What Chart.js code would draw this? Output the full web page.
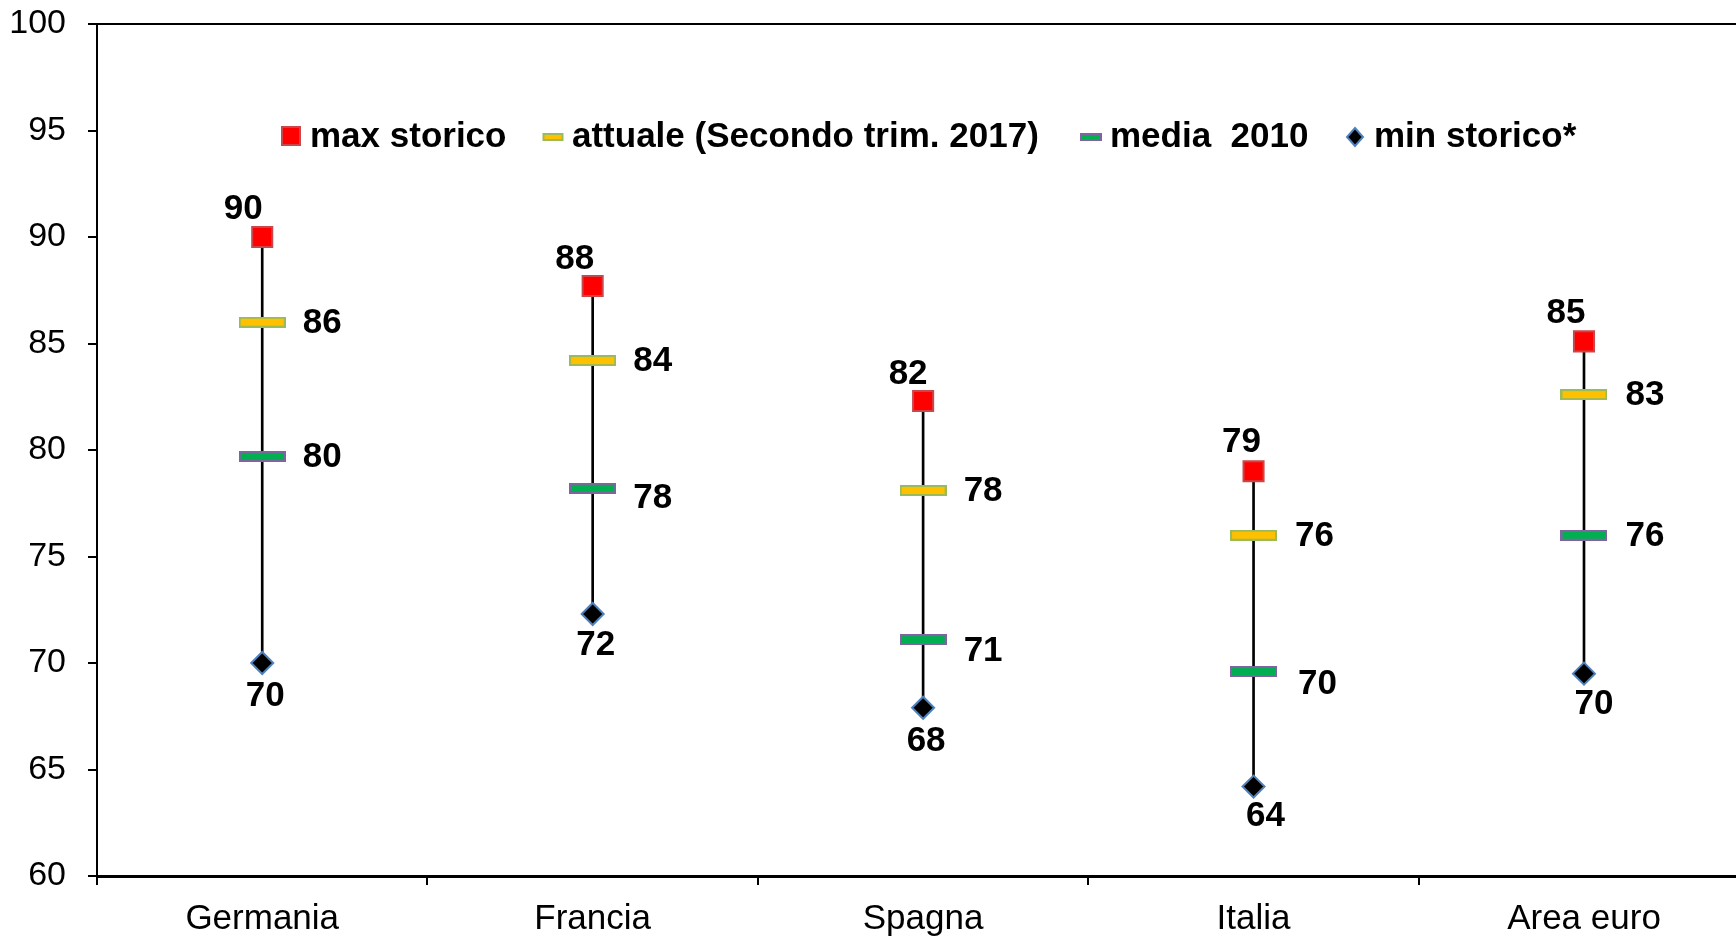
<!DOCTYPE html>
<html>
<head>
<meta charset="utf-8">
<script src="https://cdn.jsdelivr.net/npm/chart.js@4.4.1/dist/chart.umd.min.js"></script>
<style>
html,body{margin:0;padding:0;background:#fff;overflow:hidden}
#wrap{position:relative;width:1736px;height:938px}
</style>
</head>
<body>
<div id="wrap"><canvas id="c"></canvas></div>
<script>
// ---- data ----
const categories = ['Germania', 'Francia', 'Spagna', 'Italia', 'Area euro'];
const maxStorico = [90.0, 87.7, 82.3, 79.0, 85.1];
const attuale    = [86.0, 84.2, 78.1, 76.0, 82.6];
const media2010  = [79.7, 78.2, 71.1, 69.6, 76.0];
const minStorico = [70.0, 72.3, 67.9, 64.2, 69.5];
const seriesLabels = ['max storico', 'attuale (Secondo trim. 2017)', 'media  2010', 'min storico*'];
const yMin = 60, yMax = 100, yStep = 5;

// ---- styles ----
const FONT = "'Liberation Sans', Arial, sans-serif";
const COLORS = {
  maxFill: '#FF0000', maxBorder: '#C9474A',
  attFill: '#FFC000', attBorder: '#9BBB59',
  medFill: '#00B050', medBorder: '#8064A2',
  minFill: '#000000', minBorder: '#4F81BD'
};
// label nudges (pixels) per series / category
const LABEL_NUDGE = {
  max: { dx: [-19, -18, -15, -12, -18], dy: [-28, -27, -27, -29, -28] },
  att: { dx: [60, 60, 60, 61, 61], dy: [1, 1, 1, 1, 1] },
  med: { dx: [60, 60, 60, 64, 61], dy: [1, 10, 12, 13, 1] },
  min: { dx: [3, 3, 3, 12, 10], dy: [33, 31, 34, 30, 31] }
};
const LEGEND_X = [291, 553, 1091, 1355]; // marker centres
const LEGEND_Y = 137;

function barImage(w, h, fill, stroke) {
  const c = document.createElement('canvas');
  c.width = w; c.height = h;
  const g = c.getContext('2d');
  g.fillStyle = stroke; g.fillRect(0, 0, w, h);
  g.fillStyle = fill; g.fillRect(2, 2, w - 4, h - 4);
  return c;
}
const attImg = barImage(47, 11, COLORS.attFill, COLORS.attBorder);
const medImg = barImage(47, 11, COLORS.medFill, COLORS.medBorder);

const toPts = arr => arr.map((v, i) => ({ x: i, y: v }));

const datasets = [
  { type: 'scatter', label: seriesLabels[0], key: 'max', data: toPts(maxStorico),
    pointStyle: 'rect', pointRadius: 14.2, backgroundColor: COLORS.maxFill,
    borderColor: COLORS.maxBorder, borderWidth: 2, order: 1 },
  { type: 'scatter', label: seriesLabels[1], key: 'att', data: toPts(attuale),
    pointStyle: attImg, pointRadius: 10, backgroundColor: COLORS.attFill,
    borderColor: COLORS.attBorder, order: 1 },
  { type: 'scatter', label: seriesLabels[2], key: 'med', data: toPts(media2010),
    pointStyle: medImg, pointRadius: 10, backgroundColor: COLORS.medFill,
    borderColor: COLORS.medBorder, order: 1 },
  { type: 'scatter', label: seriesLabels[3], key: 'min', data: toPts(minStorico),
    pointStyle: 'rectRot', pointRadius: 11, backgroundColor: COLORS.minFill,
    borderColor: COLORS.minBorder, borderWidth: 2, order: 1 },
  { type: 'bar', label: 'range', key: 'range',
    data: categories.map((c, i) => ({ x: i, y: [minStorico[i], maxStorico[i]] })),
    backgroundColor: '#000', borderWidth: 0, barThickness: 2, order: 10 }
];

const dataLabelPlugin = {
  id: 'dataLabels',
  afterDatasetsDraw(chart) {
    const ctx = chart.ctx;
    ctx.save();
    ctx.font = 'bold 35px ' + FONT;
    ctx.fillStyle = '#000';
    ctx.textAlign = 'center';
    ctx.textBaseline = 'middle';
    chart.data.datasets.forEach((ds, di) => {
      const nudge = LABEL_NUDGE[ds.key];
      if (!nudge) return;
      const meta = chart.getDatasetMeta(di);
      meta.data.forEach((el, i) => {
        const v = ds.data[i].y;
        ctx.fillText(String(Math.round(v)), el.x + nudge.dx[i], el.y + nudge.dy[i]);
      });
    });
    ctx.restore();
  }
};

const legendPlugin = {
  id: 'inLegend',
  afterDraw(chart) {
    const ctx = chart.ctx;
    ctx.save();
    ctx.font = 'bold 35px ' + FONT;
    ctx.fillStyle = '#000';
    ctx.textAlign = 'left';
    ctx.textBaseline = 'middle';
    chart.data.datasets.forEach((ds, di) => {
      if (di > 3) return;
      const cx = LEGEND_X[di], cy = LEGEND_Y;
      ctx.save();
      if (ds.key === 'max') {
        ctx.fillStyle = ds.borderColor; ctx.fillRect(cx - 10, cy - 11, 20, 20);
        ctx.fillStyle = ds.backgroundColor; ctx.fillRect(cx - 8, cy - 9, 16, 16);
      } else if (ds.key === 'att' || ds.key === 'med') {
        const w = ds.key === 'att' ? 21 : 22;
        ctx.fillStyle = ds.borderColor; ctx.fillRect(cx - w / 2, cy - 4, w, 8);
        ctx.fillStyle = ds.backgroundColor; ctx.fillRect(cx - w / 2 + 2, cy - 2, w - 4, 4);
      } else {
        ctx.beginPath();
        ctx.moveTo(cx, cy - 9); ctx.lineTo(cx + 8, cy); ctx.lineTo(cx, cy + 9); ctx.lineTo(cx - 8, cy);
        ctx.closePath();
        ctx.fillStyle = ds.backgroundColor; ctx.fill();
        ctx.lineWidth = 2; ctx.strokeStyle = ds.borderColor; ctx.stroke();
      }
      ctx.restore();
      ctx.fillText(ds.label, cx + 19, cy);
    });
    ctx.restore();
  }
};

new Chart(document.getElementById('c'), {
  type: 'scatter',
  data: { datasets },
  options: {
    responsive: true,
    maintainAspectRatio: false,
    animation: false,
    events: [],
    layout: { autoPadding: false, padding: { top: 24, right: 0, bottom: 0, left: 0 } },
    plugins: { legend: { display: false }, tooltip: { enabled: false } },
    scales: {
      x: {
        type: 'linear',
        offset: false,
        min: -0.5,
        max: 4.46,
        afterBuildTicks(scale) {
          const t = [];
          for (let v = -0.5; v <= categories.length - 1 + 1e-9; v += 0.5) t.push({ value: v });
          scale.ticks = t;
        },
        afterFit(scale) {
          scale.height = 62;
          scale.paddingLeft = 0; scale.paddingRight = 0;
          scale.paddingTop = 0; scale.paddingBottom = 0;
        },
        ticks: {
          autoSkip: false,
          maxRotation: 0,
          padding: 13,
          color: '#000',
          font: { family: FONT, size: 35 },
          callback: v => (Number.isInteger(v) ? categories[v] : '')
        },
        grid: {
          offset: false,
          drawOnChartArea: false,
          tickLength: 9,
          lineWidth: 2,
          tickColor: ctx => (ctx.tick && Number.isInteger(ctx.tick.value) ? 'rgba(0,0,0,0)' : '#000')
        },
        border: { color: '#000', width: 3 }
      },
      y: {
        min: yMin,
        max: yMax,
        afterFit(scale) {
          scale.width = 97;
          scale.paddingTop = 0; scale.paddingBottom = 0;
          scale.paddingLeft = 0; scale.paddingRight = 0;
        },
        ticks: {
          stepSize: yStep,
          padding: 22,
          color: '#000',
          font: { family: FONT, size: 34 }
        },
        grid: {
          tickLength: 9,
          lineWidth: 2,
          color: ctx => (ctx.tick && ctx.tick.value === yMax ? '#000' : 'rgba(0,0,0,0)'),
          tickColor: '#000'
        },
        border: { color: '#000', width: 2 }
      }
    }
  },
  plugins: [dataLabelPlugin, legendPlugin]
});
</script>
</body>
</html>
